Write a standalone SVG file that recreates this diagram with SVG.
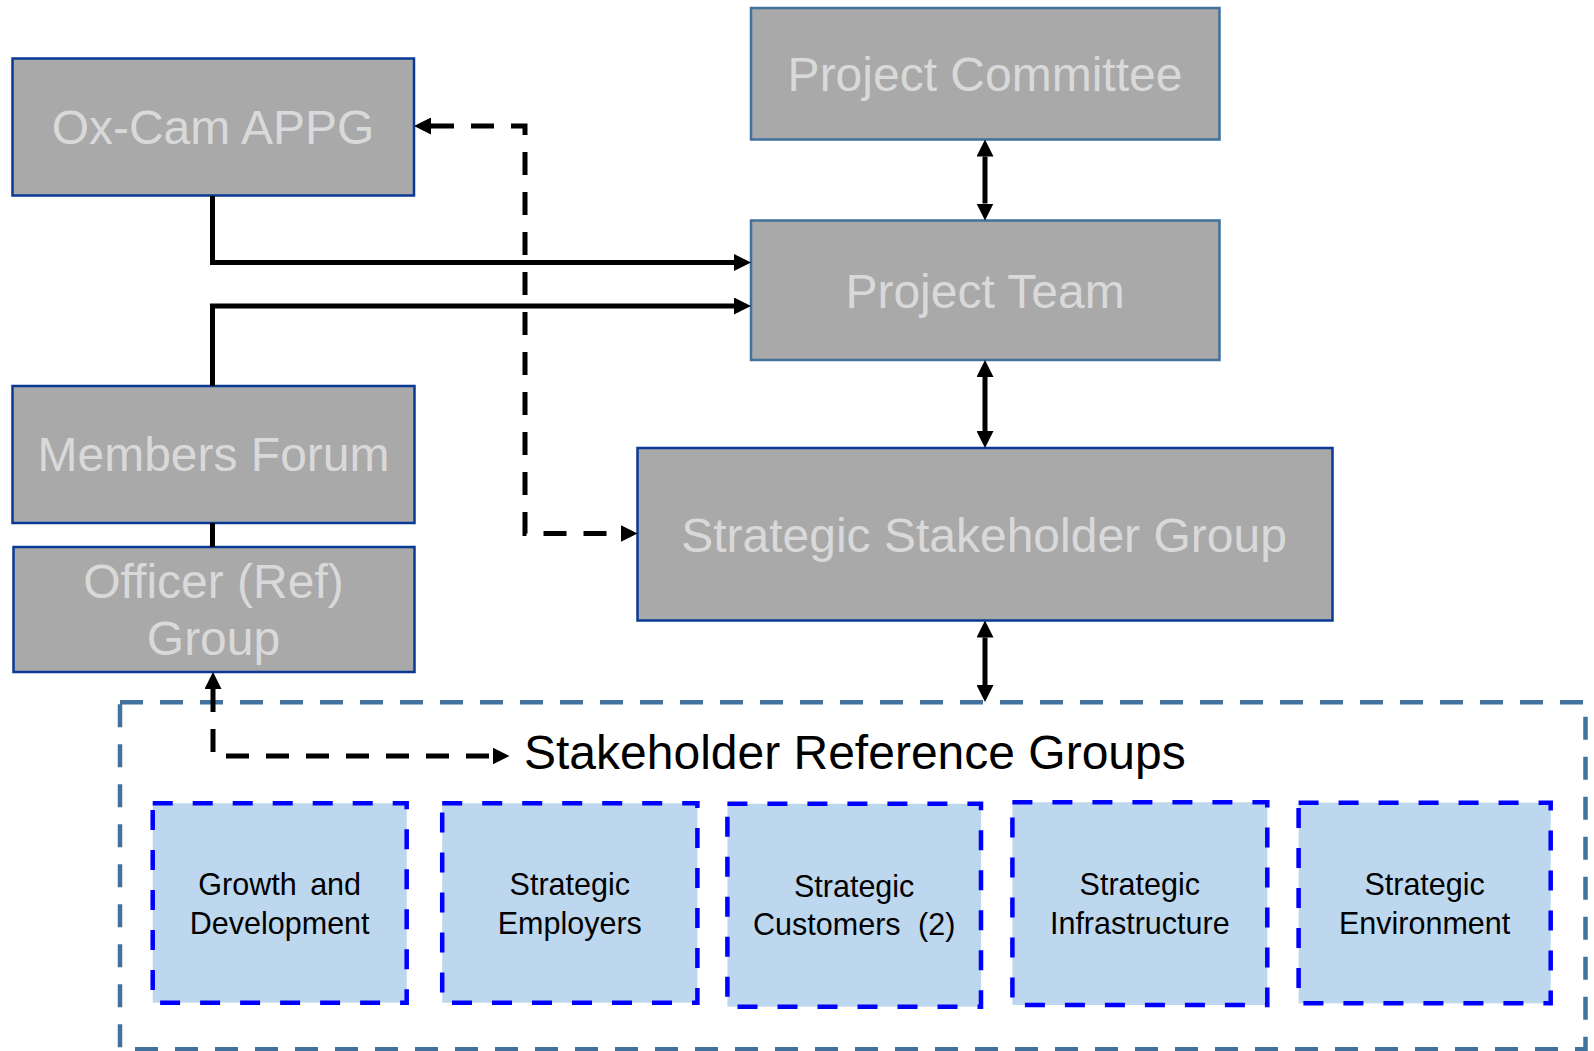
<svg xmlns="http://www.w3.org/2000/svg" width="1594" height="1051" viewBox="0 0 1594 1051">
<defs>
<style>
.box{fill:#A9A9A9;stroke-width:2.5}
.dk{stroke:#0A3A94}
.st{stroke:#41719C}
.bt{font-family:"Liberation Sans",Arial,sans-serif;font-size:48px;fill:#D9D9D9;text-anchor:middle}
.sb{fill:#BDD7EE;stroke:#0000FF;stroke-width:4.5;stroke-dasharray:20 20}
.st2{font-family:"Liberation Sans",Arial,sans-serif;font-size:30.5px;fill:#000;text-anchor:middle}
.ln{fill:none;stroke:#000;stroke-width:5}
.dl{fill:none;stroke:#000;stroke-width:5;stroke-dasharray:23 17}
</style>
<marker id="ah" markerUnits="userSpaceOnUse" markerWidth="17" markerHeight="17" viewBox="0 0 17 17" refX="0" refY="8.5" orient="auto-start-reverse">
<path d="M0,0 L17,8.5 L0,17 Z" fill="#000"/>
</marker>
</defs>

<g id="container">
<rect x="120" y="702.3" width="1465.5" height="347" fill="none" stroke="#41719C" stroke-width="4.5" stroke-dasharray="23 17"/>
<text x="524" y="768.5" font-family="Liberation Sans, Arial, sans-serif" font-size="48" fill="#000">Stakeholder Reference Groups</text>
</g>

<g id="ox-cam-appg">
<rect class="box dk" x="12.5" y="58.5" width="401.5" height="137"/>
<text class="bt" x="213" y="144">Ox-Cam APPG</text>
</g>

<g id="project-committee">
<rect class="box st" x="751" y="8" width="468.5" height="131.5"/>
<text class="bt" x="985" y="91">Project Committee</text>
</g>

<g id="project-team">
<rect class="box st" x="751" y="220.5" width="468.5" height="139.5"/>
<text class="bt" x="985" y="308">Project Team</text>
</g>

<g id="members-forum">
<rect class="box dk" x="12.5" y="386" width="402" height="137"/>
<text class="bt" x="213.5" y="471">Members Forum</text>
</g>

<g id="officer-ref-group">
<rect class="box dk" x="13.5" y="547" width="401" height="125"/>
<text class="bt" x="213.5" y="598">Officer (Ref)</text>
<text class="bt" x="213.5" y="655">Group</text>
</g>

<g id="strategic-stakeholder-group">
<rect class="box dk" x="637.5" y="448" width="695" height="172.5"/>
<text class="bt" x="984" y="551.5">Strategic Stakeholder Group</text>
</g>

<g id="growth-development">
<rect class="sb" x="152.7" y="803.3" width="254" height="199.4"/>
<text class="st2" x="279.7" y="895" word-spacing="5">Growth and</text>
<text class="st2" x="279.7" y="934">Development</text>
</g>

<g id="strategic-employers">
<rect class="sb" x="442.2" y="803.3" width="255.2" height="199.4"/>
<text class="st2" x="569.8" y="895">Strategic</text>
<text class="st2" x="569.8" y="934">Employers</text>
</g>

<g id="strategic-customers">
<rect class="sb" x="727.4" y="803.8" width="253.6" height="202.9"/>
<text class="st2" x="854.2" y="896.5">Strategic</text>
<text class="st2" x="854.2" y="935" word-spacing="9">Customers (2)</text>
</g>

<g id="strategic-infrastructure">
<rect class="sb" x="1012.4" y="802.3" width="254.9" height="202.7"/>
<text class="st2" x="1139.8" y="895">Strategic</text>
<text class="st2" x="1139.8" y="934">Infrastructure</text>
</g>

<g id="strategic-environment">
<rect class="sb" x="1298.6" y="802.7" width="252.1" height="200.6"/>
<text class="st2" x="1424.6" y="895">Strategic</text>
<text class="st2" x="1424.6" y="934">Environment</text>
</g>

<g id="connectors">
<path class="ln" d="M212.5,196 V262.5 H734" marker-end="url(#ah)"/>
<path class="ln" d="M212.5,386 V306 H734" marker-end="url(#ah)"/>
<path class="ln" d="M212.5,523 V547"/>
<path class="ln" d="M985,156.5 V203.5" marker-start="url(#ah)" marker-end="url(#ah)"/>
<path class="ln" d="M985,377 V431" marker-start="url(#ah)" marker-end="url(#ah)"/>
<path class="ln" d="M985,637.5 V685" marker-start="url(#ah)" marker-end="url(#ah)"/>
<path class="dl" d="M431,126 H525 V533.5 H620.5" marker-start="url(#ah)" marker-end="url(#ah)"/>
<path class="dl" d="M213,689 V756 H492.5" marker-start="url(#ah)" marker-end="url(#ah)"/>
</g>
</svg>
